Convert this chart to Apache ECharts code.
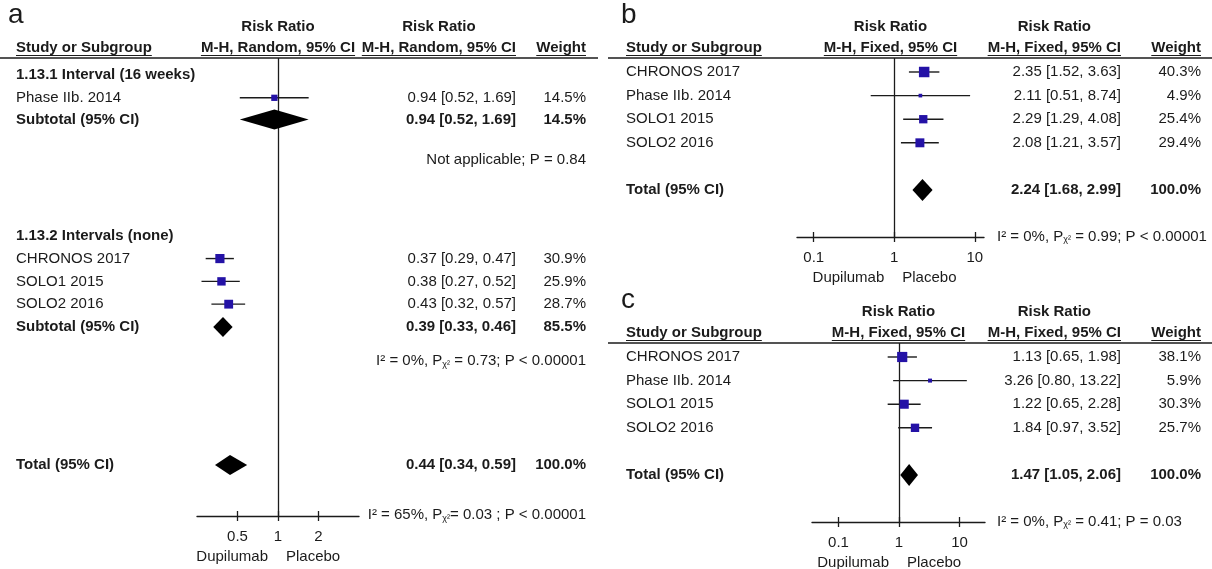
<!DOCTYPE html>
<html>
<head>
<meta charset="utf-8">
<script src="https://cdn.jsdelivr.net/npm/echarts@6/dist/echarts.min.js"></script>
<style>
html, body { margin: 0; padding: 0; background: #fff; }
#main { width: 1212px; height: 569px; }
</style>
</head>
<body>
<div id="main"></div>
<script>
// panel a - by dosing interval, random effects
const aNames = ['1.13.1 Interval (16 weeks)', 'Phase IIb. 2014', 'Subtotal (95% CI)', 'Not applicable; P = 0.84',
  '1.13.2 Intervals (none)', 'CHRONOS 2017', 'SOLO1 2015', 'SOLO2 2016', 'Subtotal (95% CI)',
  'I² = 0%, Pχ² = 0.73; P < 0.00001', 'Total (95% CI)', 'I² = 65%, Pχ²= 0.03 ; P < 0.00001'];
const aKinds = ['group', 'study', 'pooled', 'stat', 'group', 'study', 'study', 'study', 'pooled', 'stat', 'pooled', 'stat'];
const aRR = [null, 0.94, 0.94, null, null, 0.37, 0.38, 0.43, 0.39, null, 0.44, null];
const aLow = [null, 0.52, 0.52, null, null, 0.29, 0.27, 0.32, 0.33, null, 0.34, null];
const aHigh = [null, 1.69, 1.69, null, null, 0.47, 0.52, 0.57, 0.46, null, 0.59, null];
const aWeight = [null, 14.5, 14.5, null, null, 30.9, 25.9, 28.7, 85.5, null, 100.0, null];
const aTicks = [0.5, 1, 2];

// panel b
const bNames = ['CHRONOS 2017', 'Phase IIb. 2014', 'SOLO1 2015', 'SOLO2 2016', 'Total (95% CI)', 'I² = 0%, Pχ² = 0.99; P < 0.00001'];
const bKinds = ['study', 'study', 'study', 'study', 'pooled', 'stat'];
const bRR = [2.35, 2.11, 2.29, 2.08, 2.24, null];
const bLow = [1.52, 0.51, 1.29, 1.21, 1.68, null];
const bHigh = [3.63, 8.74, 4.08, 3.57, 2.99, null];
const bWeight = [40.3, 4.9, 25.4, 29.4, 100.0, null];
const bTicks = [0.1, 1, 10];

// panel c
const cNames = ['CHRONOS 2017', 'Phase IIb. 2014', 'SOLO1 2015', 'SOLO2 2016', 'Total (95% CI)', 'I² = 0%, Pχ² = 0.41; P = 0.03'];
const cKinds = ['study', 'study', 'study', 'study', 'pooled', 'stat'];
const cRR = [1.13, 3.26, 1.22, 1.84, 1.47, null];
const cLow = [0.65, 0.80, 0.65, 0.97, 1.05, null];
const cHigh = [1.98, 13.22, 2.28, 3.52, 2.06, null];
const cWeight = [38.1, 5.9, 30.3, 25.7, 100.0, null];
const cTicks = [0.1, 1, 10];

// row slots (layout only)
const aSlots = [0, 1, 1.95, 3.7, 7.05, 8.05, 9.05, 10.05, 11.05, 12.55, 17.1, 19.3];
const bcSlots = [0, 1, 2, 3, 5, 6.99];

const FONT = '"Liberation Sans", Arial, sans-serif';
const INK = '#1b1b1b';
const BLUE = '#2412a6';
const SQ_K = 1.65;

const panels = [
  { key: 'a', names: aNames, kinds: aKinds, rr: aRR, low: aLow, high: aHigh, weight: aWeight, ticks: aTicks, slots: aSlots,
    method: 'M-H, Random, 95% CI', left: 197, top: 58, width: 162, height: 458, xMin: 0.25, xMax: 4, yMin: -0.746, yMax: 19.34,
    letterX: 8, nameX: 16, effectRight: 516, weightRight: 586, statX: 586, statAlign: 'right', lineFrom: 0, lineTo: 598, diamondH: 20 },
  { key: 'b', names: bNames, kinds: bKinds, rr: bRR, low: bLow, high: bHigh, weight: bWeight, ticks: bTicks, slots: bcSlots,
    method: 'M-H, Fixed, 95% CI', left: 797, top: 58, width: 187, height: 179, xMin: 0.062, xMax: 13, yMin: -0.593, yMax: 6.99,
    letterX: 621, nameX: 626, effectRight: 1121, weightRight: 1201, statX: 997, statAlign: 'left', lineFrom: 608, lineTo: 1212, diamondH: 22 },
  { key: 'c', names: cNames, kinds: cKinds, rr: cRR, low: cLow, high: cHigh, weight: cWeight, ticks: cTicks, slots: bcSlots,
    method: 'M-H, Fixed, 95% CI', left: 812, top: 343, width: 173, height: 179, xMin: 0.0365, xMax: 26.4, yMin: -0.593, yMax: 6.99,
    letterX: 621, nameX: 626, effectRight: 1121, weightRight: 1201, statX: 997, statAlign: 'left', lineFrom: 608, lineTo: 1212, diamondH: 22 }
];

const measureCtx = document.createElement('canvas').getContext('2d');
function textWidth(s, bold) {
  measureCtx.font = (bold ? 'bold ' : '') + '15px ' + FONT;
  return measureCtx.measureText(s).width;
}

function txt(x, y, text, o) {
  o = o || {};
  return {
    type: 'text', x: x, y: y, silent: true,
    style: {
      text: text,
      fill: INK,
      font: (o.bold ? 'bold ' : '') + (o.size || 15) + 'px ' + FONT,
      align: o.align || 'left',
      verticalAlign: 'middle',
      rich: o.rich
    }
  };
}
function seg(x1, y1, x2, y2, w) {
  return { type: 'line', silent: true, shape: { x1: x1, y1: y1, x2: x2, y2: y2 }, style: { stroke: INK, lineWidth: w || 1.3 } };
}

const subRich = { sub: { fontSize: 9, fontFamily: FONT, fill: INK, verticalAlign: 'bottom', padding: [5, 0, 0, 0] } };
const fmt = v => v.toFixed(2);

function makeRender(p) {
  return function (params, api) {
    const r = api.value(2);
    const kind = p.kinds[r];
    const s = p.slots[r];
    const y = api.coord([1, s])[1];
    const kids = [];
    if (r === 0) {
      // captions under the axis, either side of the line of no effect
      const one = api.coord([1, p.yMax]);
      kids.push(txt(one[0] - 10, one[1] + 41, 'Dupilumab', { align: 'right' }));
      kids.push(txt(one[0] + 8, one[1] + 41, 'Placebo', { align: 'left' }));
    }
    if (kind === 'stat') {
      kids.push(txt(p.statX, y, p.names[r].replace('Pχ²', 'P{sub|χ²}'), { align: p.statAlign, rich: subRich }));
      return { type: 'group', children: kids };
    }
    kids.push(txt(p.nameX, y, p.names[r], { bold: kind !== 'study' }));
    if (kind === 'group') return { type: 'group', children: kids };

    const xc = api.coord([p.rr[r], s])[0];
    const xl = api.coord([p.low[r], s])[0];
    const xh = api.coord([p.high[r], s])[0];
    if (kind === 'study') {
      kids.push(seg(xl, y, xh, y, 1.4));
      const side = SQ_K * Math.sqrt(p.weight[r]);
      kids.push({ type: 'rect', shape: { x: xc - side / 2, y: y - side / 2, width: side, height: side }, style: { fill: BLUE } });
    } else {
      const h = p.diamondH / 2;
      kids.push({ type: 'polygon', shape: { points: [[xl, y], [xc, y - h], [xh, y], [xc, y + h]] }, style: { fill: '#000' } });
    }
    const bold = kind === 'pooled';
    kids.push(txt(p.effectRight, y, fmt(p.rr[r]) + ' [' + fmt(p.low[r]) + ', ' + fmt(p.high[r]) + ']', { bold: bold, align: 'right' }));
    kids.push(txt(p.weightRight, y, p.weight[r].toFixed(1) + '%', { bold: bold, align: 'right' }));
    return { type: 'group', children: kids };
  };
}

// static table headers
const headers = [];
panels.forEach(p => {
  const mid = p.left + p.width / 2;
  const mhW = textWidth(p.method, true);
  const mh2Center = p.effectRight - mhW / 2;
  const hy = p.top - 10;
  headers.push(txt(p.letterX, p.top - 43, p.key, { size: 28 }));
  headers.push(txt(mid, p.top - 31, 'Risk Ratio', { bold: true, align: 'center' }));
  headers.push(txt(mh2Center, p.top - 31, 'Risk Ratio', { bold: true, align: 'center' }));
  headers.push(txt(p.nameX, hy, 'Study or Subgroup', { bold: true }));
  headers.push(txt(mid, hy, p.method, { bold: true, align: 'center' }));
  headers.push(txt(p.effectRight, hy, p.method, { bold: true, align: 'right' }));
  headers.push(txt(p.weightRight, hy, 'Weight', { bold: true, align: 'right' }));
  const uy = p.top - 2.5;
  const sw = textWidth('Study or Subgroup', true);
  const ww = textWidth('Weight', true);
  headers.push(seg(p.nameX, uy, p.nameX + sw, uy, 1));
  headers.push(seg(mid - mhW / 2, uy, mid + mhW / 2, uy, 1));
  headers.push(seg(p.effectRight - mhW, uy, p.effectRight, uy, 1));
  headers.push(seg(p.weightRight - ww, uy, p.weightRight, uy, 1));
  headers.push(seg(p.lineFrom, p.top, p.lineTo, p.top, 1.4));
});

const chart = echarts.init(document.getElementById('main'), null, { renderer: 'canvas' });

const option = {
  animation: false,
  backgroundColor: '#fff',
  grid: panels.map(p => ({ left: p.left, top: p.top, width: p.width, height: p.height })),
  xAxis: [].concat.apply([], panels.map((p, i) => [
    {
      type: 'log', logBase: 10, gridIndex: i, min: p.xMin, max: p.xMax, position: 'bottom',
      axisLine: { onZero: false, lineStyle: { color: INK, width: 1.4 } },
      axisTick: { customValues: p.ticks, length: 5, lineStyle: { color: INK, width: 1.3 } },
      axisLabel: { customValues: p.ticks, formatter: v => String(+(+v).toPrecision(3)), margin: 13,
        fontSize: 15, fontFamily: FONT, color: INK },
      splitLine: { show: false }
    },
    {
      type: 'log', logBase: 10, gridIndex: i, min: p.xMin, max: p.xMax, position: 'bottom',
      axisLine: { show: false, onZero: false },
      axisTick: { customValues: p.ticks, inside: true, length: 5, lineStyle: { color: INK, width: 1.3 } },
      axisLabel: { show: false },
      splitLine: { show: false }
    }
  ])),
  yAxis: panels.map((p, i) => ({ type: 'value', gridIndex: i, inverse: true, min: p.yMin, max: p.yMax, show: false })),
  series: panels.map((p, i) => ({
    type: 'custom',
    name: p.key,
    coordinateSystem: 'cartesian2d',
    xAxisIndex: i * 2,
    yAxisIndex: i,
    z: 10,
    data: p.names.map((n, r) => [p.rr[r] || 1, p.slots[r], r]),
    encode: { x: 0, y: 1 },
    renderItem: makeRender(p),
    markLine: {
      silent: true, z: 1, symbol: 'none', label: { show: false },
      lineStyle: { color: INK, width: 1.3, type: 'solid' },
      data: [{ xAxis: 1 }]
    }
  })),
  graphic: { elements: headers }
};

chart.setOption(option);
</script>
</body>
</html>
